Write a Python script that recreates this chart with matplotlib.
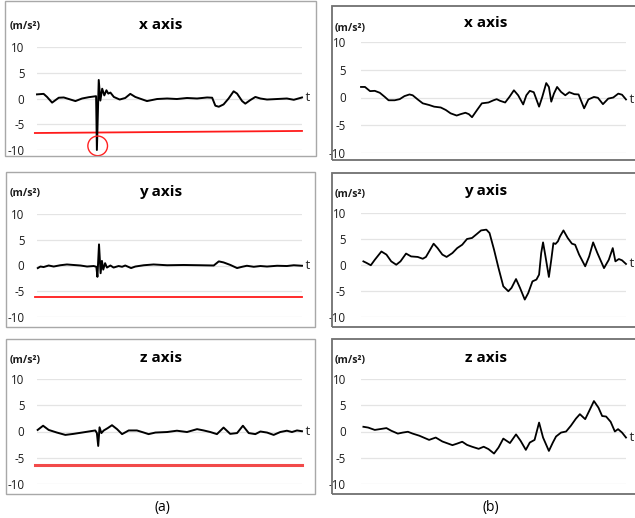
import matplotlib
matplotlib.use("Agg")
import matplotlib.pyplot as plt
from matplotlib.patches import Rectangle

plt.rcParams['font.family'] = ['Open Sans', 'DejaVu Sans']

W, H = 635, 518

# ---- (a) raw acceleration, with the fall threshold ----
a_x_t = [0, 2.5, 3.8, 5.7, 8.2, 10.1, 12, 14.5, 17, 19.5, 22.3, 22.6, 23.3, 23.9,
         24.6, 25.4, 26.2, 26.9, 27.7, 29, 31.2, 33.3, 35.2, 37.1, 41.5, 45.3,
         49.1, 52.8, 56.6, 60.4, 64.2, 66.1, 67.3, 68.6, 70.4, 72.3, 74.2, 75.5,
         77.4, 78.6, 80.5, 82.4, 84.3, 86.8, 90.6, 94.3, 96.9, 100]
a_x_v = [0.8, 0.9, 0.3, -0.8, 0.15, 0.2, -0.1, -0.5, 0, 0.25, 0.45, -10.0, 3.6, -0.4,
         1.9, 0.6, 1.6, 0.95, 1.15, 0.3, -0.2, 0.1, 0.9, 0.3, -0.5, -0.1,
         0, -0.1, 0.1, 0, 0.2, 0.15, -1.4, -1.6, -1.15, 0, 1.4, 0.95,
         -0.5, -1.0, -0.3, 0.3, 0, -0.2, -0.1, 0, -0.25, 0.2]

a_y_t = [0.3, 1.3, 2.5, 4.4, 6.3, 8.8, 11.3, 13.8, 16.4, 18.9, 21.4, 22.4, 22.8, 23.4,
         24.0, 24.5, 25.0, 25.7, 26.4, 27.7, 28.9, 30.8, 32.1, 33.3, 35.5, 37.1,
         40.3, 44.0, 49.1, 55.3, 61.6, 66.7, 68.6, 70.4, 73, 75.5, 77.4, 79.2,
         81.8, 84.3, 86.8, 90.6, 94.3, 96.9, 100]
a_y_v = [-0.5, -0.2, -0.3, 0, -0.2, 0.05, 0.2, 0.1, 0, -0.2, -0.1, -0.25, -2.2, 4.1,
         -1.5, 0.9, -0.8, 0.45, -0.4, 0, -0.4, -0.1, -0.25, 0, -0.5, -0.2,
         0.05, 0.2, 0.05, 0.1, 0.05, 0, 0.8, 0.6, 0.1, -0.5, -0.25, -0.05,
         -0.25, -0.1, -0.2, -0.05, -0.1, 0.05, -0.05]

a_z_t = [0.25, 2.3, 4.4, 7.5, 10.7, 13.8, 17, 19.5, 22, 22.6, 23.1, 23.6, 24.3, 25.2,
         26.7, 28.3, 30.2, 32.1, 34.6, 37.7, 40.3, 42.1, 44.7, 49.1, 52.8, 56.6,
         60.4, 62.9, 65.4, 67.9, 70.4, 72.9, 75.5, 77.7, 79.9, 82.4, 84.3, 86.8,
         89.3, 91.8, 94.3, 96.2, 98.1, 100]
a_z_v = [0.3, 1.1, 0.3, -0.2, -0.65, -0.45, -0.2, 0, 0.2, -0.3, -2.75, 0.8, -0.3, 0.2,
         0.65, 1.2, 0.45, -0.5, 0.2, 0.2, -0.2, -0.5, -0.2, -0.1, 0.15, -0.1,
         0.45, 0.2, -0.1, -0.5, 0.75, -0.45, -0.3, 1.1, -0.3, -0.5, 0, -0.2,
         -0.65, -0.1, 0.15, -0.1, 0.2, 0.05]

# threshold level at the start and end of each (a) trace
thr_start = [-6.7, -6.2, -6.3]
thr_end = [-6.3, -6.2, -6.3]

# the flagged sample on the x trace
hit_t, hit_v = 22.9, -9.2

# ---- (b) ----
b_x_t = [0, 1.5, 3.4, 5.2, 7.1, 9, 10.4, 12.7, 14.6, 16.4, 18.3, 19.5, 21.4, 23.3,
         25.7, 27.6, 30.1, 32, 33.8, 36.1, 37.6, 39.4, 40.7, 41.9, 43.8, 45.6,
         48.1, 50, 51.2, 52.5, 54.4, 56, 57.7, 59.3, 61.2, 62.4, 63.7, 65.2,
         67.2, 68.4, 69.9, 70.9, 71.8, 72.8, 74, 75.5, 77.1, 78.6, 80.5, 82.1,
         84.2, 85.8, 87.9, 89.4, 91.3, 93.3, 95.2, 97.1, 98.5, 100]
b_x_v = [1.9, 1.9, 1.15, 1.2, 0.85, 0.1, -0.5, -0.5, -0.3, 0.25, 0.55, 0.4, -0.35, -1.05,
         -1.35, -1.65, -1.8, -2.25, -2.85, -3.25, -3.0, -2.75, -3.0, -3.55, -2.25, -1.05,
         -0.9, -0.5, -0.3, -0.6, -0.9, 0.1, 1.3, 0.4, -1.25, 0.4, 1.2, 0.95,
         -1.65, 0.1, 2.6, 1.9, -0.75, 0.7, 1.9, 1.0, 0.4, 0.95, 0.6, 0.55,
         -1.95, -0.35, 0.1, -0.05, -1.2, -0.2, 0, 0.7, 0.5, -0.35]

b_y_t = [0.9, 2.1, 3.7, 5.2, 7.7, 9.6, 11.4, 13.3, 14.9, 17.0, 18.9, 21.4, 23.3, 24.5,
         25.7, 27.4, 28.9, 30.7, 32.3, 34.5, 36.3, 38.2, 40.0, 41.9, 43.8, 45.3,
         47.3, 48.5, 50.2, 51.9, 53.7, 55.6, 56.8, 58.5, 60.0, 61.8, 63.1, 64.7,
         66.2, 67.2, 68.0, 68.7, 69.5, 70.9, 71.8, 72.6, 73.4, 74.3, 75.1, 76.4,
         78.0, 79.6, 80.8, 82.3, 84.6, 86.1, 87.6, 89.2, 91.7, 93.5, 95.0, 96.0,
         97.3, 98.5, 100]
b_y_v = [0.7, 0.4, -0.05, 1.0, 2.6, 2.0, 0.7, 0.05, 0.7, 2.2, 1.65, 1.55, 1.2, 1.55,
         2.6, 4.1, 3.25, 2.0, 1.55, 2.3, 3.25, 3.9, 5.0, 5.2, 6.0, 6.65,
         6.8, 6.15, 2.95, -0.6, -4.1, -5.05, -4.4, -2.7, -4.4, -6.65, -5.4, -3.15,
         -2.8, -1.85, 2.3, 4.35, 2.0, -2.3, 1.0, 4.2, 4.05, 4.55, 5.5, 6.65,
         5.2, 4.1, 3.9, 2.0, -0.25, 1.65, 4.35, 2.3, -0.6, 1.0, 3.25, 0.7,
         1.15, 0.9, 0.2]

b_z_t = [0.9, 2.7, 5.2, 7.1, 9.6, 11.4, 13.9, 15.8, 17.7, 19.5, 22.0, 25.7, 28.2, 30.7,
         34.5, 36.3, 38.2, 40.0, 41.9, 44.4, 46.3, 48.1, 50.2, 51.9, 53.7, 56.2,
         58.5, 60.2, 62.2, 63.7, 65.5, 67.2, 68.7, 70.9, 72.4, 73.6, 75.5, 77.4,
         79.2, 81.1, 82.6, 84.6, 86.1, 87.9, 89.6, 91.0, 92.5, 94.2, 95.8, 97.0,
         98.5, 100]
b_z_v = [0.9, 0.75, 0.3, 0.45, 0.65, 0.15, -0.4, -0.2, -0.05, -0.4, -0.8, -1.6, -1.15, -1.9,
         -2.6, -2.3, -1.95, -2.55, -2.9, -3.3, -2.9, -3.35, -4.2, -3.05, -1.35, -2.2,
         -0.55, -1.75, -3.5, -2.1, -1.6, 1.7, -1.15, -3.7, -2.1, -0.95, -0.2, 0,
         1.1, 2.45, 3.3, 2.35, 3.9, 5.8, 4.55, 2.95, 2.85, 1.85, 0, 0.45,
         -0.2, -1.15]

titles = ['x axis', 'y axis', 'z axis']
yticks = [-10, -5, 0, 5, 10]
ytick_labels = ['-10', '-5', '0', '5', '10']

a_series = [(a_x_t, a_x_v), (a_y_t, a_y_v), (a_z_t, a_z_v)]
b_series = [(b_x_t, b_x_v), (b_y_t, b_y_v), (b_z_t, b_z_v)]

# pixel layout: frame box (left, top, right, bottom) and plot area (left, top(=10), right, bottom(=-10))
a_boxes = [(5, 1, 316, 156), (6, 172, 315, 327), (6, 339, 315, 494)]
a_plots = [(37, 47, 302, 150), (37, 214, 302, 317), (37, 379, 302, 484)]
b_boxes = [(332, 6, 660, 160), (332, 173, 660, 327), (332, 339, 660, 494)]
b_plots = [(361, 42, 626, 153), (361, 213, 626, 317), (361, 379, 626, 484)]


def px_rect(l, t, r, b):
    return [l / W, 1 - b / H, (r - l) / W, (b - t) / H]


fig = plt.figure(figsize=(W / 100, H / 100), dpi=100)


def draw_panel(box, area, t, v, title, box_color, box_lw, lw, tick_pad, title_x, unit_x, unit_y, title_y):
    fig.patches.append(Rectangle((box[0] / W, 1 - box[3] / H), (box[2] - box[0]) / W,
                                 (box[3] - box[1]) / H, transform=fig.transFigure,
                                 fill=False, edgecolor=box_color, linewidth=box_lw))
    ax = fig.add_axes(px_rect(*area))
    ax.set_xlim(0, 100)
    ax.set_ylim(-10, 10)
    ax.set_yticks(yticks)
    ax.set_yticklabels(ytick_labels)
    ax.set_xticks([])
    for s in ax.spines.values():
        s.set_visible(False)
    ax.tick_params(axis='y', length=0, pad=tick_pad, labelsize=8.3, labelcolor='#1a1a1a')
    ax.grid(axis='y', color='#e4e4e4', linewidth=0.9)
    ax.set_axisbelow(True)
    ax.plot(t, v, color='black', linewidth=lw, solid_joinstyle='round', clip_on=False, zorder=3)
    ax.text(1.0, v[-1], ' t', transform=ax.get_yaxis_transform(), ha='left', va='center',
            fontsize=9.5, color='#222222', clip_on=False)
    fig.text(title_x / W, 1 - title_y / H, title, ha='center', va='center',
             fontsize=11, fontweight='bold')
    fig.text(unit_x / W, 1 - unit_y / H, '(m/s²)', ha='left', va='center',
             fontsize=7.6, fontweight='bold', color='#1a1a1a')
    return ax


title_ys_a = [25, 192, 358]
unit_ys_a = [27, 194, 360]
title_ys_b = [23, 191, 358]
unit_ys_b = [29, 195, 360]

for i in range(3):
    t, v = a_series[i]
    ax = draw_panel(a_boxes[i], a_plots[i], t, v, titles[i], '#a8a8a8', 1.0, 1.4, 9,
                    161, 10, unit_ys_a[i], title_ys_a[i])
    # threshold
    ax.plot([-0.8, 100], [thr_start[i], thr_end[i]],
            color='#ff1a1a' if i < 2 else '#f24a4a',
            linewidth=1.3 if i < 2 else 2.2, clip_on=False, zorder=2)
    if i == 0:
        ax.scatter([hit_t], [hit_v], s=200, facecolors='none', edgecolors='#ff2020',
                   linewidths=1.0, zorder=4, clip_on=False)

for i in range(3):
    t, v = b_series[i]
    draw_panel(b_boxes[i], b_plots[i], t, v, titles[i], '#707070', 1.3, 1.3, 11,
               486, 335, unit_ys_b[i], title_ys_b[i])

fig.text(162 / W, 1 - 507 / H, '(a)', ha='center', va='center', fontsize=10)
fig.text(491 / W, 1 - 507 / H, '(b)', ha='center', va='center', fontsize=10)

fig.savefig('out.png', dpi=100)
plt.close(fig)
